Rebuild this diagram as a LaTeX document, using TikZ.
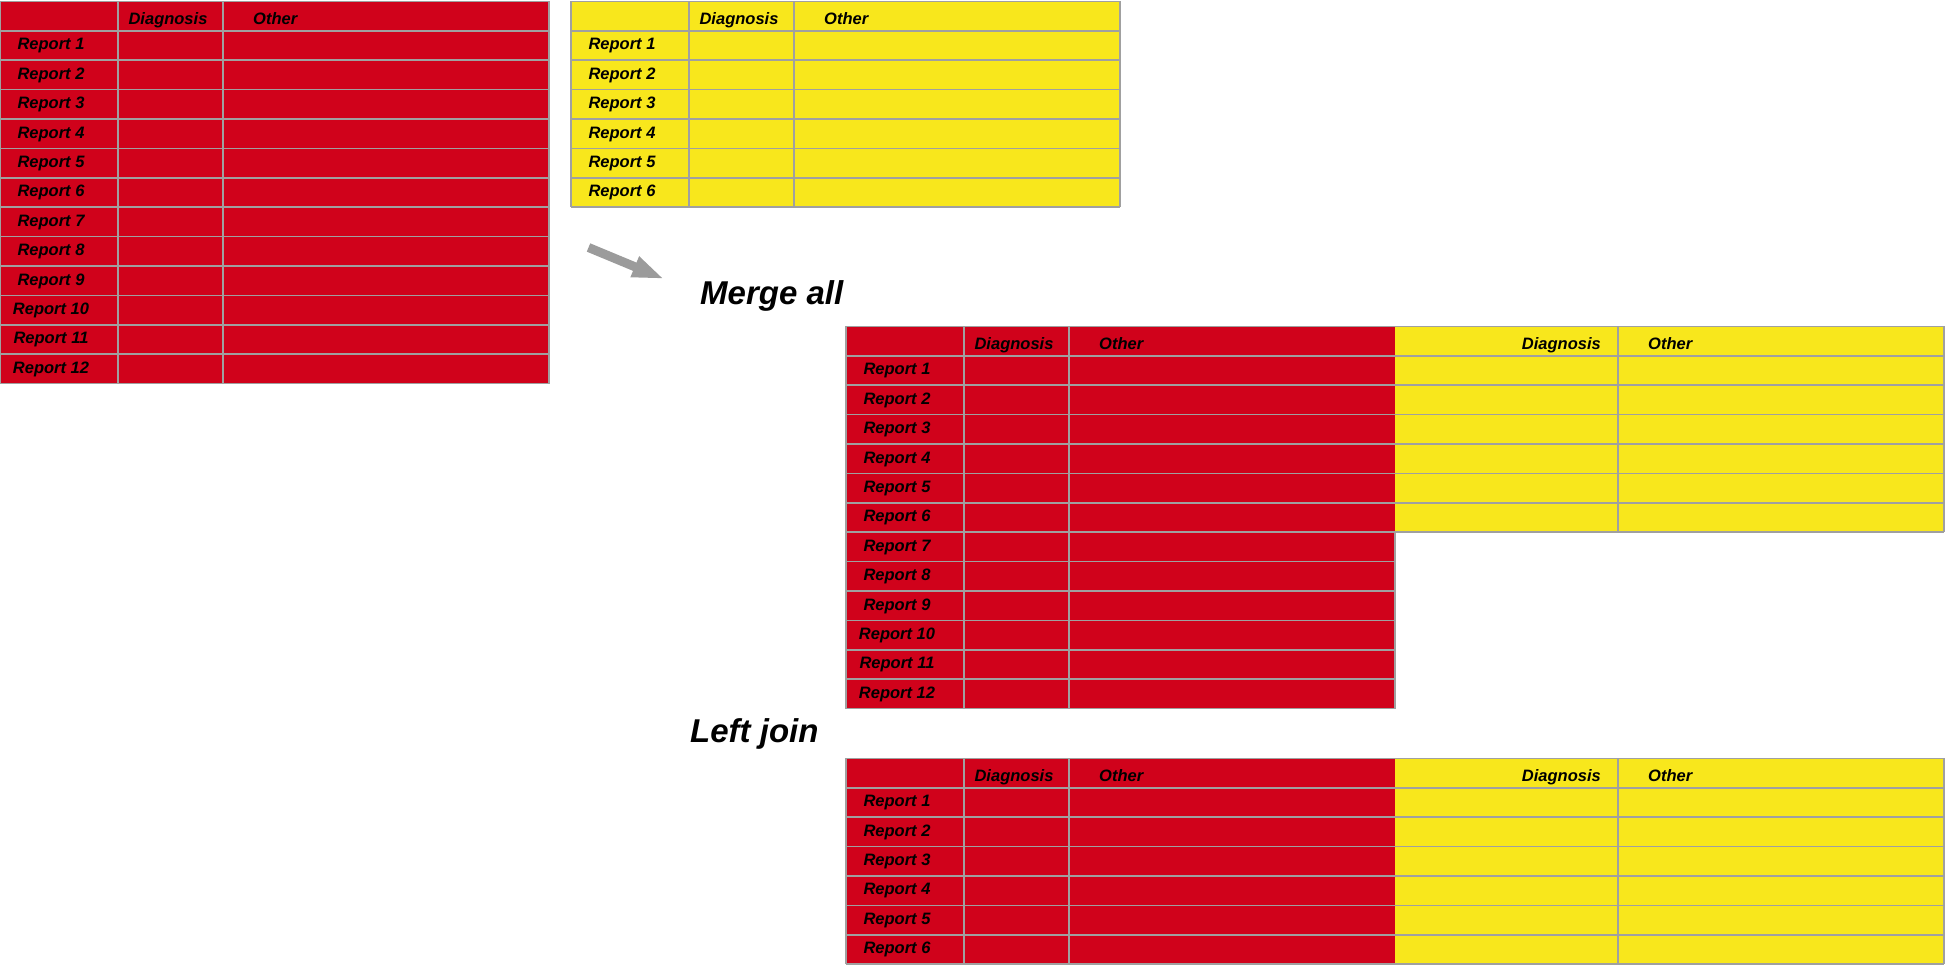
\documentclass[tikz,border=0pt]{standalone}
\usepackage{fontspec}
\setmainfont{Liberation Sans}
\usetikzlibrary{arrows.meta, positioning}

\definecolor{reportred}{RGB}{208,2,27}
\definecolor{reportyellow}{RGB}{248,231,28}
\definecolor{gridgray}{RGB}{160,160,160}
\definecolor{arrowgray}{RGB}{155,155,155}

\tikzset{
 cell/.style={font=\fontsize{16.5}{18}\selectfont\bfseries\itshape, anchor=base, inner sep=0pt},
 title/.style={font=\fontsize{33}{38}\selectfont\bfseries\itshape, anchor=base west, inner sep=0pt},
 rowline/.style={draw=gridgray, line width=1.6pt},
 colline/.style={draw=gridgray, line width=1.1pt},
 mergearrow/.style={draw=arrowgray, line width=9pt, -{Triangle[length=32pt, width=20pt]}},
}

\begin{document}
\begin{tikzpicture}[x=1pt, y=-1pt]
 \useasboundingbox (0,0) rectangle (1946,965);

 % first table: red, 12 reports
 \fill[reportred] (0,1.5) rectangle (549,383.7);
 \foreach \i in {0,...,13}
  \draw[rowline] (0,1.5+29.4*\i) -- (549,1.5+29.4*\i);
 \foreach \x in {0,118,223,549}
  \draw[colline] (\x,1.5) -- (\x,383.7);
 \node[cell] (redhead-diag) at (168,24.5) {Diagnosis};
 \node[cell, anchor=base west] (redhead-other) at (253,24.5) {Other};
 \foreach \i in {1,...,12}
  \node[cell] (red-r\i) at (51,20.5+29.4*\i) {Report \i};

 % second table: yellow, 6 reports
 \fill[reportyellow] (571,1.5) rectangle (1120,207.3);
 \foreach \i in {0,...,7}
  \draw[rowline] (571,1.5+29.4*\i) -- (1120,1.5+29.4*\i);
 \foreach \x in {571,689,794,1120}
  \draw[colline] (\x,1.5) -- (\x,207.3);
 \node[cell] (yelhead-diag) at (739,24.5) {Diagnosis};
 \node[cell, anchor=base west] (yelhead-other) at (824,24.5) {Other};
 \foreach \i in {1,...,6}
  \node[cell] (yel-r\i) at (622,20.5+29.4*\i) {Report \i};

 % arrow
 \coordinate (arrowtail) at (588.5,247.5);
 \coordinate (arrowtip) at (664.3,279);
 \draw[mergearrow] (arrowtail) -- (arrowtip);

 \node[title] (mergeall) at (700,305) {Merge all};

 % merged table
 \fill[reportred] (846,326.4) rectangle (1395,708.6);
 \fill[reportyellow] (1395,326.4) rectangle (1944,532.2);
 \foreach \i in {0,...,13}
  \draw[rowline] (846,326.4+29.4*\i) -- (1395,326.4+29.4*\i);
 \foreach \i in {0,...,7}
  \draw[rowline] (1395,326.4+29.4*\i) -- (1944,326.4+29.4*\i);
 \foreach \x in {846,964,1069}
  \draw[colline] (\x,326.4) -- (\x,708.6);
 \draw[colline] (1395,532.2) -- (1395,708.6);
 \foreach \x in {1618,1944}
  \draw[colline] (\x,326.4) -- (\x,532.2);
 \node[cell] (mhead-diag) at (1014,349.4) {Diagnosis};
 \node[cell, anchor=base west] (mhead-other) at (1099,349.4) {Other};
 \node[cell, anchor=base east] (mhead-diag2) at (1601,349.4) {Diagnosis};
 \node[cell, anchor=base west] (mhead-other2) at (1648,349.4) {Other};
 \foreach \i in {1,...,12}
  \node[cell] (m-r\i) at (897,345.4+29.4*\i) {Report \i};

 \node[title] (leftjoin) at (690,742.5) {Left join};

 % left join table
 \fill[reportred] (846,758.3) rectangle (1395,964.1);
 \fill[reportyellow] (1395,758.3) rectangle (1944,964.1);
 \foreach \i in {0,...,7}
  \draw[rowline] (846,758.3+29.4*\i) -- (1944,758.3+29.4*\i);
 \foreach \x in {846,964,1069,1618,1944}
  \draw[colline] (\x,758.3) -- (\x,964.1);
 \node[cell] (lhead-diag) at (1014,781.3) {Diagnosis};
 \node[cell, anchor=base west] (lhead-other) at (1099,781.3) {Other};
 \node[cell, anchor=base east] (lhead-diag2) at (1601,781.3) {Diagnosis};
 \node[cell, anchor=base west] (lhead-other2) at (1648,781.3) {Other};
 \foreach \i in {1,...,6}
  \node[cell] (l-r\i) at (897,777.3+29.4*\i) {Report \i};
\end{tikzpicture}
\end{document}
